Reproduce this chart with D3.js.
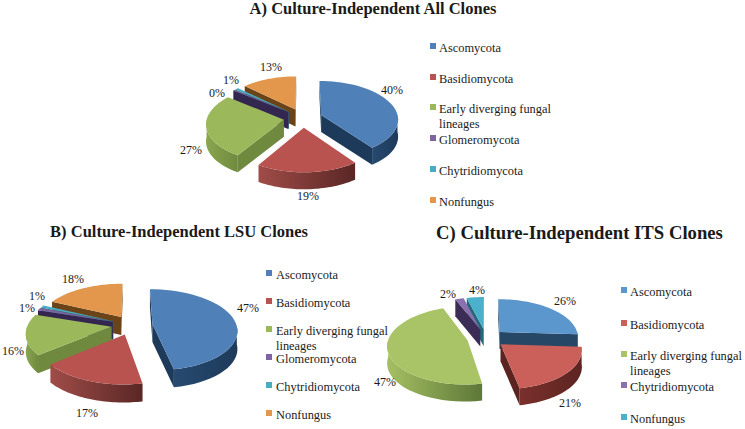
<!DOCTYPE html>
<html>
<head>
<meta charset="utf-8">
<script src="https://cdn.jsdelivr.net/npm/d3@7"></script>
<style>
  body { margin: 0; background: #fff; }
  text { font-family: "Liberation Serif", serif; fill: #1a1a1a; }
</style>
</head>
<body>
<svg id="chart" width="745" height="429"></svg>
<script>
// data
const catsA = ["Ascomycota", "Basidiomycota", "Early diverging fungal|lineages", "Glomeromycota", "Chytridiomycota", "Nonfungus"];
const catsB = catsA;
const catsC = ["Ascomycota", "Basidiomycota", "Early diverging fungal|lineages", "Chytridiomycota", "Nonfungus"];
const valuesA = [40, 19, 27, 0.45, 0.9, 13];
const valuesB = [47, 17, 16, 1, 1, 18];
const valuesC = [26, 21, 47, 2, 4];

const colorsAB = ["#4f81b8", "#b9534f", "#9bb85a", "#7f64a0", "#4babc4", "#e2974c"];
const wallHiAB = ["#274a70", "#a04c48", "#8aa64f", "#46386a", "#3a8aa0", "#8a5a20"];
const wallLoAB = ["#1d3a5a", "#592725", "#6f8a3e", "#33264f", "#2a6a80", "#6a4418"];
const colorsC = ["#5b96cc", "#cb5f5a", "#a8c466", "#8a70ae", "#4bb0cc"];
const wallHiC = ["#264766", "#7a302c", "#a5bf62", "#4a3a6a", "#2f8296"];
const wallLoC = ["#264766", "#5c2421", "#5d7838", "#3b2d55", "#25687a"];

const svg = d3.select("#chart");
const defs = svg.append("defs");

const pie = d3.pie().sort(null).startAngle(0).endAngle(2 * Math.PI);
const line = d3.line();

function drawPie(p) {
  const g = svg.append("g");
  const project = (x, y, z) => {
    const s = 1 / (1 - p.k * y);
    return [p.cx + p.rx * x * s, p.cy + p.ry * y * s + (z || 0)];
  };

  const slices = pie(p.values).map((d, i) => {
    const mid = (d.startAngle + d.endAngle) / 2;
    return { ...d, i, mid, ox: Math.sin(mid) * p.explode, oy: -Math.cos(mid) * p.explode };
  });
  // back slices first
  slices.sort((a, b) => a.oy - b.oy);

  slices.forEach((d) => {
    const rim = (t, z) => project(d.ox + Math.sin(t), d.oy - Math.cos(t), z);
    const apex = project(d.ox, d.oy);
    const angles = d3.range(0, 41).map((j) => d.startAngle + ((d.endAngle - d.startAngle) * j) / 40);
    const midPt = rim(d.mid);

    // cut faces, only those turned to the viewer
    [d.startAngle, d.endAngle].forEach((t) => {
      const q = rim(t);
      const ex = q[0] - apex[0];
      const ey = q[1] - apex[1];
      const inner = ex * (midPt[1] - apex[1]) - ey * (midPt[0] - apex[0]);
      if (ex * inner >= 0) return;
      g.append("path")
        .attr("d", line([apex, q, rim(t, p.depth), project(d.ox, d.oy, p.depth)]) + "Z")
        .attr("fill", p.wallLo[d.i]);
    });

    // outer wall
    const front = angles.filter((t) => -Math.cos(t) >= -0.02);
    if (front.length > 1) {
      const id = `wall-${p.name}-${d.i}`;
      const grad = defs.append("linearGradient").attr("id", id);
      grad.append("stop").attr("offset", 0).attr("stop-color", p.wallHi[d.i]);
      grad.append("stop").attr("offset", 1).attr("stop-color", p.wallLo[d.i]);
      const pts = front.map((t) => rim(t)).concat(front.slice().reverse().map((t) => rim(t, p.depth)));
      g.append("path").attr("d", line(pts) + "Z").attr("fill", `url(#${id})`);
    }

    // top
    g.append("path")
      .attr("d", line([apex].concat(angles.map((t) => rim(t)))) + "Z")
      .attr("fill", p.colors[d.i]);
  });

  // percent labels
  g.selectAll(".pct")
    .data(p.values)
    .join("text")
    .attr("class", "pct")
    .attr("x", (d, i) => p.labelPos[i][0])
    .attr("y", (d, i) => p.labelPos[i][1] + 1)
    .attr("text-anchor", "middle")
    .attr("dominant-baseline", "middle")
    .attr("font-size", 12)
    .text((d) => Math.round(d) + "%");

  // title
  svg.append("text")
    .attr("x", p.titleX)
    .attr("y", p.titleY)
    .attr("text-anchor", "middle")
    .attr("font-weight", "bold")
    .attr("font-size", p.titleSize)
    .text(p.title);

  // legend
  const leg = svg.append("g");
  p.cats.forEach((c, i) => {
    const y = p.legendY[i];
    leg.append("rect")
      .attr("x", p.legendX)
      .attr("y", y - 3)
      .attr("width", 6)
      .attr("height", 6)
      .attr("fill", p.colors[i]);
    c.split("|").forEach((t, j) => {
      leg.append("text")
        .attr("x", p.legendX + p.legendDx)
        .attr("y", y + p.legendDy + j * 15)
        .attr("font-size", 12.4)
        .text(t);
    });
  });
}

drawPie({
  name: "a", title: "A) Culture-Independent All Clones", titleX: 373, titleY: 14, titleSize: 16.5,
  cats: catsA, values: valuesA, colors: colorsAB, wallHi: wallHiAB, wallLo: wallLoAB,
  cx: 303, cy: 118, rx: 77, ry: 38, k: 0.1, depth: 17, explode: 0.25,
  labelPos: [[392, 90], [308, 196], [191, 150], [217, 93], [231, 80], [271, 67]],
  legendX: 430, legendDx: 9, legendDy: 5.7, legendY: [46, 77, 107, 138, 169, 200],
});

drawPie({
  name: "b", title: "B) Culture-Independent LSU Clones", titleX: 179, titleY: 237, titleSize: 16.5,
  cats: catsB, values: valuesB, colors: colorsAB, wallHi: wallHiAB, wallLo: wallLoAB,
  cx: 132, cy: 325, rx: 84, ry: 40, k: 0.14, depth: 18, explode: 0.245,
  labelPos: [[248, 308], [87, 413], [13, 351], [27, 308], [37, 296], [73, 279]],
  legendX: 266, legendDx: 10, legendDy: 6.3, legendY: [273, 301, 329, 357, 385, 413],
});

drawPie({
  name: "c", title: "C) Culture-Independent ITS Clones", titleX: 579.5, titleY: 239, titleSize: 18.7,
  cats: catsC, values: valuesC, colors: colorsC, wallHi: wallHiC, wallLo: wallLoC,
  cx: 486, cy: 338, rx: 79, ry: 38, k: 0.12, depth: 17, explode: 0.24,
  labelPos: [[565, 301], [570, 403], [385, 382], [448, 294], [477, 290]],
  legendX: 621, legendDx: 9, legendDy: 5.5, legendY: [290, 323, 354, 385, 417],
});
</script>
</body>
</html>
